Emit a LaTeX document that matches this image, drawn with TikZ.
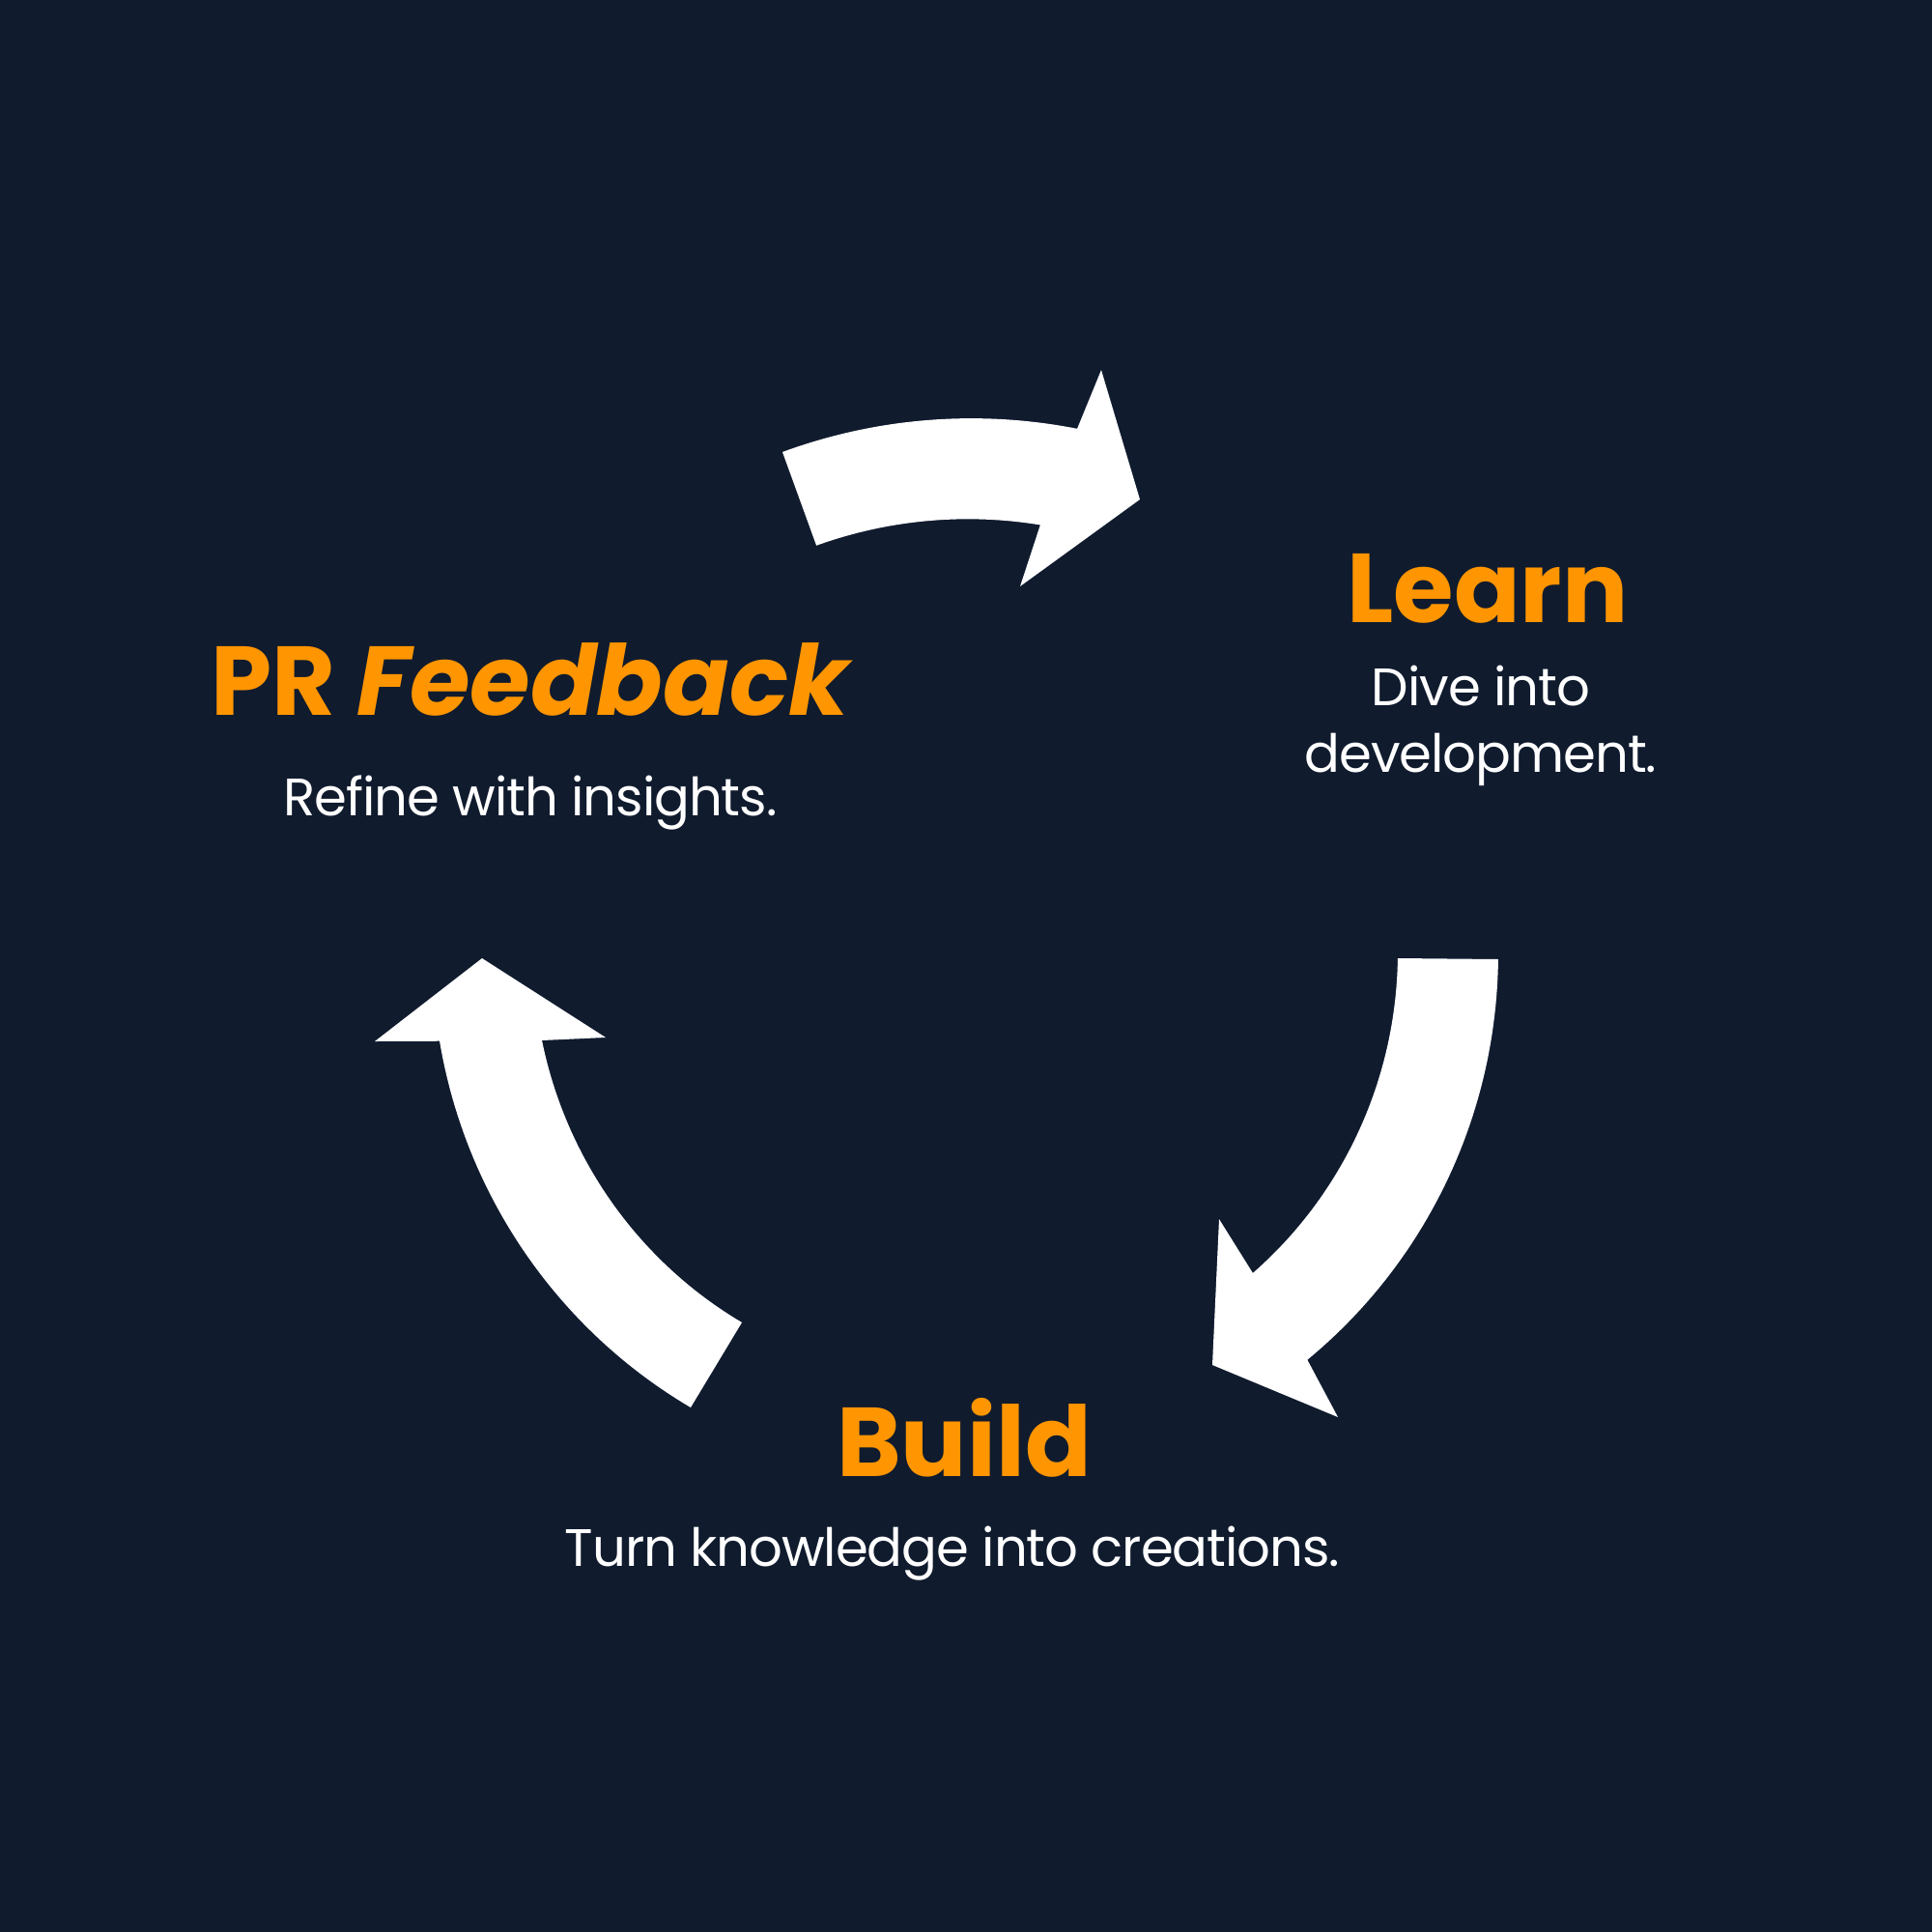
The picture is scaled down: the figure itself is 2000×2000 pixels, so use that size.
\documentclass[tikz,border=0pt]{standalone}
\usepackage{fontspec}
\setmainfont{Poppins}
\newfontfamily\subfont[LetterSpace=-2]{Poppins}
\definecolor{bg}{HTML}{101B2E}
\definecolor{accent}{HTML}{FF9500}
\begin{document}
\begin{tikzpicture}[x=0.01cm,y=-0.01cm,
  title/.style={text=accent,font=\fontsize{28.8}{34}\selectfont\bfseries,anchor=base,inner sep=0pt},
  sub/.style={text=white,font=\subfont\fontsize{15.5}{19}\selectfont,anchor=base,inner sep=0pt},
  bigarrow/.style={fill=white},
  edge/.style={domain=0:1,samples=50,variable=\t}]
\useasboundingbox (0,0) rectangle (2000,2000);
\fill[bg] (0,0) rectangle (2000,2000);

% top arrow (PR Feedback -> Learn)
\fill[bigarrow] (810,468)
  -- plot[edge] ({1000+(565+3*\t)*cos(250.35+31.35*\t)},{1000+(565+3*\t)*sin(250.35+31.35*\t)})
  -- (1140,383) -- (1180,517) -- (1056,607) -- (1077,543)
  -- plot[edge] ({1000+(463-1*\t)*cos(279.6-29.2*\t)},{1000+(463-1*\t)*sin(279.6-29.2*\t)})
  -- cycle;

% right arrow (Learn -> Build)
\fill[bigarrow] (1447,992) -- (1551,993)
  -- plot[edge] ({1000+(551-11.5*\t)*cos(-0.7+49.8*\t)},{1000+(551-11.5*\t)*sin(-0.7+49.8*\t)})
  -- (1385,1467) -- (1255,1413) -- (1262,1262) -- (1297,1318)
  -- plot[edge] ({1000+(435+12*\t)*cos(46.95-47.95*\t)},{1000+(435+12*\t)*sin(46.95-47.95*\t)})
  -- cycle;

% left arrow (Build -> PR Feedback)
\fill[bigarrow] (715,1457)
  -- plot[edge] ({1000+(538.6+11.9*\t)*cos(121.95+49.95*\t)},{1000+(538.6+11.9*\t)*sin(121.95+49.95*\t)})
  -- (388,1078) -- (499,992) -- (627,1074) -- (561,1077)
  -- plot[edge] ({1000+(445.7-9.8*\t)*cos(170.05-47.85*\t)},{1000+(445.7-9.8*\t)*sin(170.05-47.85*\t)})
  -- (768,1369) -- cycle;

% texts
\node[title] (learn) at (1540,644) {Learn};
\node[sub] (learnA) at (1533,730) {Dive into};
\node[sub] (learnB) at (1533,799) {development.};

\node[title] (feedback) at (551,740) {PR \textit{Feedback}};
\node[sub] (feedbackA) at (549,844) {Refine with insights.};

\node[title] (build) at (998,1528) {Build};
\node[sub] (buildA) at (986,1621) {Turn knowledge into creations.};
\end{tikzpicture}
\end{document}
